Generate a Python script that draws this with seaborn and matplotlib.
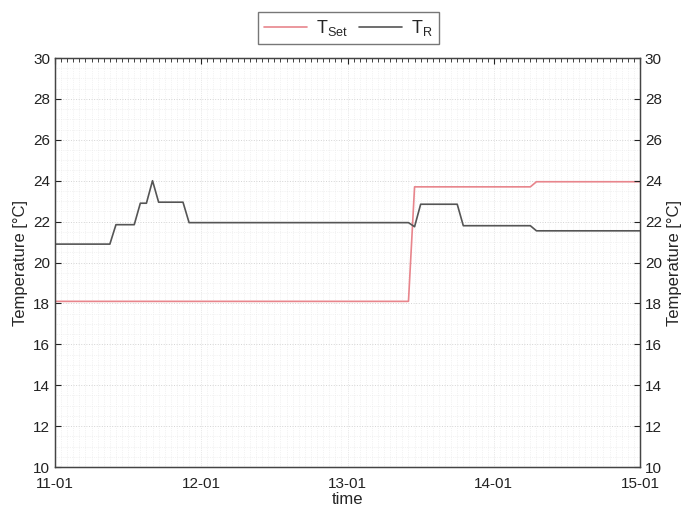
import pandas as pd
import numpy as np
import matplotlib
matplotlib.use("Agg")
import matplotlib.pyplot as plt
import matplotlib.dates as mdates
from matplotlib.ticker import MultipleLocator
import seaborn as sns

# hours after 11-01 00:00 and temperatures
tr_hours = [0, 9, 10, 13, 14, 15, 16, 17, 21, 22, 58, 59, 60, 66, 67, 78, 79, 96]
tr_values = [20.9, 20.9, 21.85, 21.85, 22.9, 22.9, 24.0, 22.95, 22.95, 21.95,
             21.95, 21.75, 22.85, 22.85, 21.8, 21.8, 21.55, 21.55]
tset_hours = [0, 58, 59, 78, 79, 96]
tset_values = [18.1, 18.1, 23.7, 23.7, 23.95, 23.95]

start = pd.Timestamp("2013-01-11")
end = pd.Timestamp("2013-01-15")
y_ticks = [10, 12, 14, 16, 18, 20, 22, 24, 26, 28, 30]

sns.set_style("white")
plt.rcParams["font.family"] = ["Liberation Sans", "DejaVu Sans"]
plt.rcParams["mathtext.fontset"] = "custom"
plt.rcParams["mathtext.rm"] = "Liberation Sans"
plt.rcParams["mathtext.it"] = "Liberation Sans"
plt.rcParams["mathtext.default"] = "regular"

df = pd.concat([
    pd.DataFrame({"time": start + pd.to_timedelta(tset_hours, unit="h"),
                  "temp": tset_values, "series": "$T_{Set}$"}),
    pd.DataFrame({"time": start + pd.to_timedelta(tr_hours, unit="h"),
                  "temp": tr_values, "series": "$T_R$"}),
])

fig = plt.figure(figsize=(6.86, 5.09), dpi=100)
ax = fig.add_axes([0.0802, 0.0825, 0.8528, 0.8035])

sns.lineplot(data=df, x="time", y="temp", hue="series", ax=ax,
             palette={"$T_{Set}$": "#e8858c", "$T_R$": "#555555"},
             linewidth=1.2, estimator=None, sort=False)

ax.set_xlim(start, end)
ax.set_ylim(10, 30)
ax.set_yticks(y_ticks)
ax.yaxis.set_minor_locator(MultipleLocator(0.5))
ax.xaxis.set_major_locator(mdates.DayLocator())
ax.xaxis.set_minor_locator(mdates.HourLocator())
ax.xaxis.set_major_formatter(mdates.DateFormatter("%d-%m"))

ax.grid(which="major", axis="y", linestyle=":", color="#d4d4d4", linewidth=0.7)
ax.grid(which="minor", axis="both", linestyle=":", color="#e8e8e8", linewidth=0.5)
ax.grid(which="major", axis="x", linestyle=":", color="#d4d4d4", linewidth=0.5)

ax.tick_params(which="both", direction="in", top=True, labelsize=11, colors="#222222")
ax.tick_params(which="major", length=4)
ax.tick_params(axis="x", which="major", pad=7)
ax.tick_params(axis="x", which="minor", length=3, bottom=False)
ax.yaxis.set_tick_params(which="minor", length=0)
for s in ax.spines.values():
    s.set_color("#444444")
    s.set_linewidth(1.0)

ax.set_xlabel("time", fontsize=12, labelpad=1)
ax.set_ylabel("Temperature [°C]", fontsize=12)

ax2 = ax.twinx()
ax2.set_ylim(10, 30)
ax2.set_yticks(y_ticks)
ax2.tick_params(direction="in", labelsize=11, colors="#222222", length=4)
ax2.set_ylabel("Temperature [°C]", fontsize=12)
for s in ax2.spines.values():
    s.set_color("#444444")

handles, labels = ax.get_legend_handles_labels()
ax.legend_.remove()
leg = fig.legend(handles, labels, loc="center", bbox_to_anchor=(0.508, 0.945),
                 ncol=2, fontsize=13, frameon=True, fancybox=False,
                 edgecolor="#555555", handlelength=2.4, columnspacing=0.6,
                 borderpad=0.35, handletextpad=0.5)
leg.get_frame().set_linewidth(1.0)

fig.savefig("out.png", dpi=100)
plt.close(fig)
